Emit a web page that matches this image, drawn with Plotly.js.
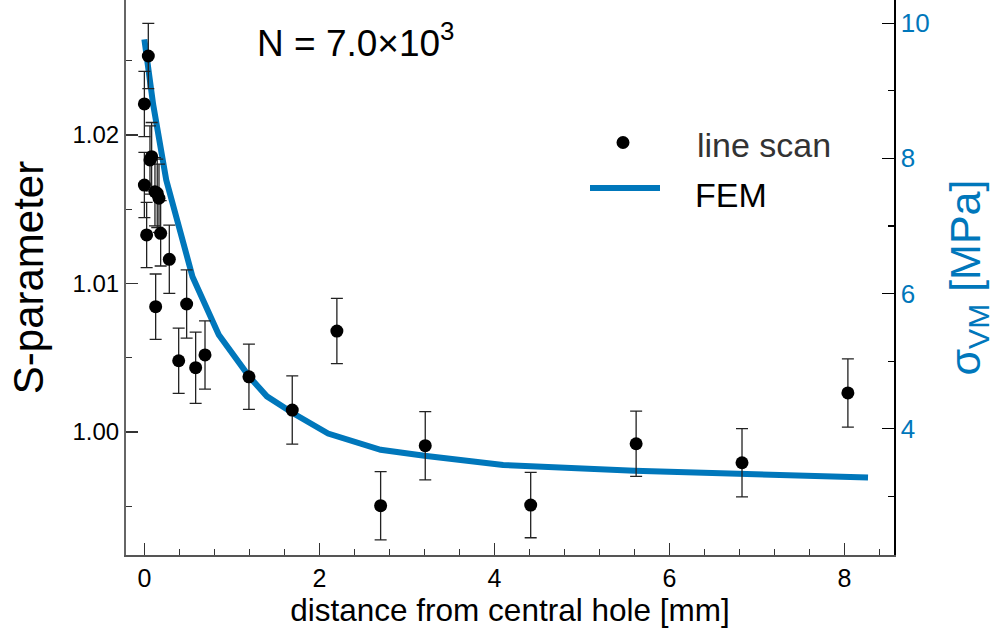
<!DOCTYPE html>
<html>
<head>
<meta charset="utf-8">
<script src="https://cdn.plot.ly/plotly-3.0.1.min.js"></script>
<style>html,body{margin:0;padding:0;background:#fff;}#chart{width:995px;height:637px;}</style>
</head>
<body>
<div id="chart"></div>
<script>
// line scan data (S-parameter vs distance)
const scanX = [0.045, 0.0, 0.083, 0.064, 0.0, 0.121, 0.147, 0.167, 0.026, 0.186, 0.285, 0.129, 0.483, 0.392, 0.586, 0.693, 1.195, 1.69, 2.2, 2.7, 3.21, 4.415, 5.62, 6.83, 8.04];
const scanS = [1.02532, 1.02209, 1.01854, 1.01832, 1.01663, 1.01618, 1.01607, 1.01574, 1.01327, 1.01338, 1.01163, 1.00844, 1.00862, 1.0048, 1.00433, 1.00519, 1.00372, 1.00148, 1.0068, 0.99504, 0.99908, 0.99508, 0.99921, 0.99793, 1.00263];
const scanErr = [0.0022, 0.0022, 0.0023, 0.0023, 0.0022, 0.0023, 0.0023, 0.0023, 0.0022, 0.0022, 0.0023, 0.0022, 0.0023, 0.0022, 0.0024, 0.0023, 0.0022, 0.0023, 0.0022, 0.0023, 0.0023, 0.0022, 0.0022, 0.0023, 0.0023];
// FEM von Mises stress
const femX = [0, 0.1, 0.25, 0.55, 0.85, 1.2, 1.4, 1.7, 2.1, 2.7, 3.2, 3.8, 4.1, 5.6, 6.8, 8.27];
const femSigma = [9.76, 8.8, 7.68, 6.25, 5.39, 4.77, 4.48, 4.23, 3.93, 3.69, 3.60, 3.51, 3.465, 3.38, 3.34, 3.28];
const legendLabels = ["line scan", "FEM"];

const BLUE = '#0077bb';
const FONT = 'Liberation Sans, Arial, sans-serif';

const traces = [
  {x: femX, y: femSigma, type: 'scatter', mode: 'lines', yaxis: 'y', name: legendLabels[1],
   line: {color: BLUE, width: 6}, showlegend: false},
  {x: scanX, y: scanS, type: 'scatter', mode: 'markers', yaxis: 'y2', name: legendLabels[0],
   marker: {color: '#000', size: 13},
   error_y: {type: 'data', array: scanErr, visible: true, color: '#222', thickness: 1.3, width: 6},
   showlegend: false}
];

const W = 768, H = 555, L = 126, T = 0;
const px = v => (v - L) / W;
const py = v => 1 - (v - T) / H;

const layout = {
  width: 995, height: 637,
  margin: {l: 126, r: 101, t: 0, b: 82, pad: 0},
  paper_bgcolor: '#fff', plot_bgcolor: '#fff',
  font: {family: FONT, color: '#000'},
  showlegend: false,
  xaxis: {
    range: [-0.21, 8.567], showgrid: false, zeroline: false,
    showline: true, linecolor: '#555', linewidth: 2,
    ticks: 'inside', ticklen: 12, tickwidth: 1.3, tickcolor: '#333',
    dtick: 2, tick0: 0, tickfont: {size: 25, family: FONT, color: '#000'},
    minor: {ticks: 'inside', ticklen: 6, dtick: 0.4, tick0: 0, tickcolor: '#333', tickwidth: 1.2, showgrid: false},
    title: {text: 'distance from central hole [mm]', font: {size: 31.5, family: FONT, color: '#000'}, standoff: 8}
  },
  yaxis: {
    range: [2.133, 10.343], side: 'right', showgrid: false, zeroline: false,
    showline: true, linecolor: '#000', linewidth: 1.5,
    ticks: 'inside', ticklen: 12, tickwidth: 1.3, tickcolor: '#000',
    dtick: 2, tick0: 0, tickfont: {size: 26, family: FONT, color: BLUE},
    minor: {ticks: 'inside', ticklen: 6, dtick: 1, tick0: 0, tickcolor: '#000', tickwidth: 1.2, showgrid: false},
    title: {text: 'σ<sub>VM</sub> [MPa]', font: {size: 43, family: FONT, color: BLUE}, standoff: 24}
  },
  yaxis2: {
    overlaying: 'y', side: 'left',
    range: [0.99172, 1.02909], showgrid: false, zeroline: false,
    showline: true, linecolor: '#666', linewidth: 2,
    ticks: 'inside', ticklen: 12, tickwidth: 1.3, tickcolor: '#333',
    dtick: 0.01, tick0: 1.0, tickformat: '.2f', tickfont: {size: 24, family: FONT, color: '#000'},
    minor: {ticks: 'inside', ticklen: 6, dtick: 0.005, tick0: 1.0, tickcolor: '#333', tickwidth: 1.2, showgrid: false},
    title: {text: 'S-parameter', font: {size: 42, family: FONT, color: '#000'}, standoff: 16}
  },
  shapes: [
    {type: 'line', xref: 'paper', yref: 'paper', x0: px(590), x1: px(660), y0: py(188), y1: py(188),
     line: {color: BLUE, width: 6}},
    {type: 'circle', xref: 'paper', yref: 'paper', xsizemode: 'pixel', ysizemode: 'pixel',
     xanchor: px(623), yanchor: py(142.5), x0: -6.5, x1: 6.5, y0: -6.5, y1: 6.5,
     fillcolor: '#000', line: {width: 0}}
  ],
  annotations: [
    {xref: 'paper', yref: 'paper', x: px(356), y: py(40), xanchor: 'center', yanchor: 'middle',
     text: 'N = 7.0×10<sup>3</sup>', showarrow: false, font: {size: 37, family: FONT, color: '#000'}},
    {xref: 'paper', yref: 'paper', x: px(695), y: py(145), xanchor: 'left', yanchor: 'middle',
     text: legendLabels[0], showarrow: false, font: {size: 34, family: FONT, color: '#333'}},
    {xref: 'paper', yref: 'paper', x: px(693), y: py(195), xanchor: 'left', yanchor: 'middle',
     text: legendLabels[1], showarrow: false, font: {size: 34, family: FONT, color: '#000'}}
  ]
};

Plotly.newPlot('chart', traces, layout, {displayModeBar: false, staticPlot: true});
</script>
</body>
</html>
